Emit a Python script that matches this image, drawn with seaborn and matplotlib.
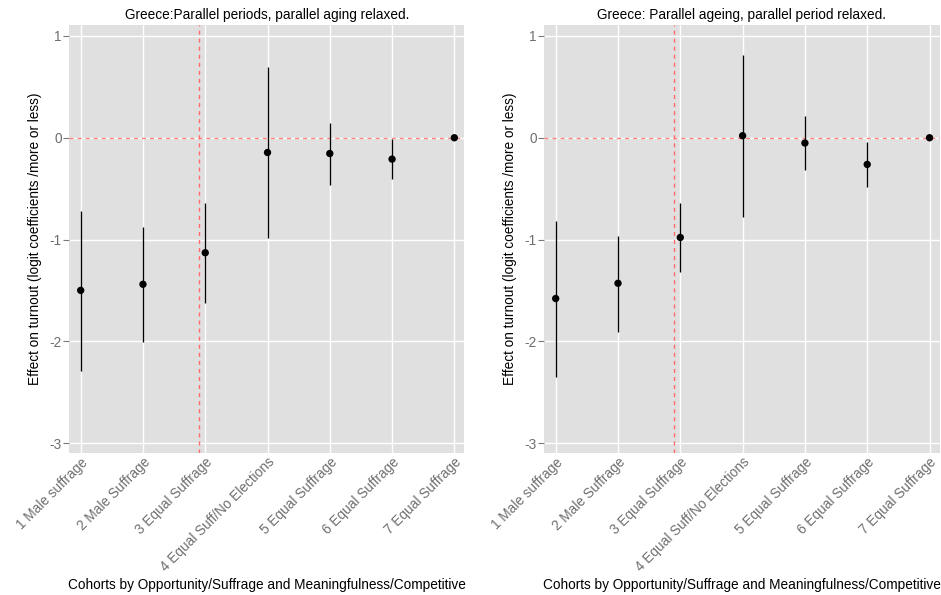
import matplotlib
matplotlib.use("Agg")
import matplotlib.pyplot as plt
import seaborn as sns
import pandas as pd

# Cohort categories on the x axis
cohorts = [
    "1 Male suffrage",
    "2 Male Suffrage",
    "3 Equal Suffrage",
    "4 Equal Suff/No Elections",
    "5 Equal Suffrage",
    "6 Equal Suffrage",
    "7 Equal Suffrage",
]

# Model 1: parallel periods, parallel aging relaxed
periods_est = [-1.50, -1.44, -1.13, -0.145, -0.155, -0.21, 0.0]
periods_lo = [-2.29, -2.01, -1.62, -0.985, -0.46, -0.41, 0.0]
periods_hi = [-0.72, -0.875, -0.64, 0.695, 0.147, -0.01, 0.0]

# Model 2: parallel ageing, parallel period relaxed
ageing_est = [-1.58, -1.43, -0.98, 0.02, -0.052, -0.262, 0.0]
ageing_lo = [-2.35, -1.905, -1.318, -0.777, -0.315, -0.48, 0.0]
ageing_hi = [-0.816, -0.964, -0.642, 0.816, 0.21, -0.046, 0.0]

titles = [
    "Greece:Parallel periods, parallel aging relaxed.",
    "Greece: Parallel ageing, parallel period relaxed.",
]
x_label = "Cohorts by Opportunity/Suffrage and Meaningfulness/Competitive"
y_label = "Effect on turnout (logit coefficients /more or less)"
y_ticks = [1, 0, -1, -2, -3]
cutoff = 1.9  # break between suffrage regimes

sns.set_theme(style="darkgrid")
plt.rcParams["font.family"] = ["Liberation Sans", "DejaVu Sans"]

FS = 9.8
fig = plt.figure(figsize=(9.41, 5.95), dpi=100)
W, H = 941, 595
panels = [(69.3, 464.3), (544.3, 939.5)]
top, bottom = 25, 453

frames = [
    pd.DataFrame({"pos": range(len(cohorts)), "est": periods_est,
                  "lo": periods_lo, "hi": periods_hi}),
    pd.DataFrame({"pos": range(len(cohorts)), "est": ageing_est,
                  "lo": ageing_lo, "hi": ageing_hi}),
]

for (x0, x1), df, title in zip(panels, frames, titles):
    ax = fig.add_axes([x0 / W, (H - bottom) / H, (x1 - x0) / W, (bottom - top) / H])
    ax.set_facecolor("#e0e0e0")
    ax.grid(True, color="white", linewidth=1.0)
    ax.set_axisbelow(True)
    for s in ax.spines.values():
        s.set_visible(False)

    ax.axhline(0, color="#ff8080", linestyle=(0, (2.9, 2.9)), linewidth=1.0, zorder=1.5)
    ax.axvline(cutoff, color="#ff6a6a", linestyle=(0, (2.9, 2.9)), linewidth=1.0, zorder=1.5)

    ax.vlines(df["pos"], df["lo"], df["hi"], color="black", linewidth=0.95, zorder=2)
    sns.scatterplot(data=df, x="pos", y="est", ax=ax, color="black", s=28,
                    edgecolor="none", zorder=3, legend=False)

    ax.set_xlim(-0.183, 6.16)
    ax.set_ylim(-3.098, 1.108)
    ax.set_xticks(range(len(cohorts)))
    ax.set_xticklabels(cohorts, rotation=45, ha="right", va="top",
                       rotation_mode="anchor", fontsize=FS, color="#6e6e6e")
    ax.set_yticks(y_ticks)
    ax.set_yticklabels([str(v) for v in y_ticks], fontsize=FS, color="#6e6e6e")
    ax.tick_params(axis="y", which="major", length=4, width=0.8,
                   color="#7a7a7a", pad=1.5, left=True)
    ax.tick_params(axis="x", which="major", length=0, pad=1.5, bottom=True)

    ax.set_title(title, fontsize=FS, color="black", pad=4)
    ax.set_xlabel(x_label, fontsize=FS, color="black")
    ax.xaxis.set_label_coords(0.5, -0.292)
    ax.set_ylabel(y_label, fontsize=FS, color="black")
    ax.yaxis.set_label_coords(-0.07, 0.5)

fig.savefig("out.png", dpi=100)
